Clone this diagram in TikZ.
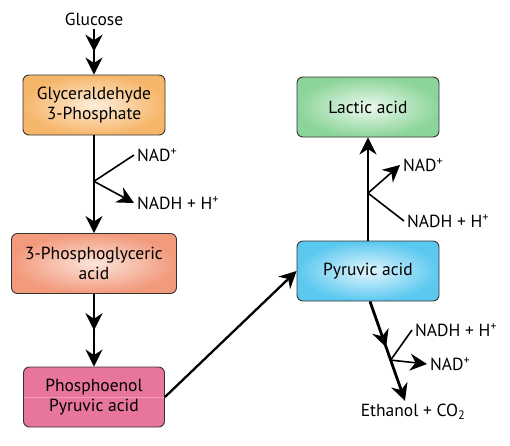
\documentclass[tikz,border=0pt]{standalone}
\usepackage{fontspec}
\setmainfont{PT Sans}
\usetikzlibrary{arrows.meta,calc,decorations.markings}

\definecolor{gapout}{HTML}{F6B66A}
\definecolor{gapin}{HTML}{FDEDD9}
\definecolor{pgaout}{HTML}{F29A7C}
\definecolor{pgain}{HTML}{FCE4DA}
\definecolor{pepfill}{HTML}{E8769C}
\definecolor{pepline}{HTML}{F49AB9}
\definecolor{lacout}{HTML}{8CD59A}
\definecolor{lacin}{HTML}{ECF8EE}
\definecolor{pyrout}{HTML}{5BC8F0}
\definecolor{pyrin}{HTML}{E2F5FC}

\begin{document}
\begin{tikzpicture}[x=1pt,y=-1pt,
		font=\fontsize{17.5}{20}\selectfont,
		box/.style={draw=black!80, line width=0.9pt, rounded corners=6pt, align=center,
			minimum width=142pt, minimum height=60pt, inner sep=0pt},
		flowhead/.style={-{Stealth[length=17pt,width=17pt,inset=5.5pt]}},
		flow/.style={line width=2.8pt, flowhead},
		side/.style={line width=1.6pt},
		midarrow/.style={postaction={decorate}, decoration={markings,
				mark=at position #1 with {\arrow{Stealth[length=17pt,width=17pt,inset=5.5pt]}}}},
		sidetext/.style={anchor=west, inner sep=3pt}
	]
		%%%%% START %%%%%
		
		\useasboundingbox (0,0) rectangle (510,445);
		
		% boxes
		\node[box, shading=radial, inner color=gapin, outer color=gapout] (g3p) at (94,105) {Glyceraldehyde\\3-Phosphate};
		\node[box, minimum width=165pt, shading=radial, inner color=pgain, outer color=pgaout] (pga) at (94,263.5) {3-Phosphoglyceric\\acid};
		\node[box, minimum width=141pt, fill=pepfill] (pep) at (94,397) {Phosphoenol\\Pyruvic acid};
		\draw[pepline, line width=0.6pt] ([xshift=1pt]pep.west) -- ([xshift=-1pt]pep.east);
		\node[box, shading=radial, inner color=lacin, outer color=lacout] (lac) at (368,107) {Lactic acid};
		\node[box, shading=radial, inner color=pyrin, outer color=pyrout] (pyr) at (368,271) {Pyruvic acid};
		
		% texts
		\node (glc) at (94,19) {Glucose};
		\node (eth) at (413,412) {Ethanol + CO\textsubscript{2}};
		\node[sidetext] (nad1) at (134,155) {NAD\textsuperscript{+}};
		\node[sidetext] (nadh1) at (134,203) {NADH + H\textsuperscript{+}};
		\node[sidetext] (nad2) at (400,165) {NAD\textsuperscript{+}};
		\node[sidetext] (nadh2) at (404,221) {NADH + H\textsuperscript{+}};
		\node[sidetext] (nadh3) at (412,330) {NADH + H\textsuperscript{+}};
		\node[sidetext] (nad3) at (427,364) {NAD\textsuperscript{+}};
		
		% glycolysis
		\draw[flow, midarrow=0.5] (glc) -- (g3p);
		\draw[flow] (g3p) -- (pga);
		\coordinate (b1) at ($(g3p.south)!0.47!(pga.north)$);
		\draw[side] (nad1.west) -- (b1);
		\draw[side, flowhead] (b1) -- (nadh1.west);
		\draw[flow, midarrow=0.5] (pga) -- (pep);
		\draw[flow, line width=2.3pt] (pep.east) -- (pyr.west);
		
		% lactic acid
		\draw[flow] (pyr.north) -- (lac.south);
		\coordinate (b3) at ($(pyr.north)!0.46!(lac.south)$);
		\draw[side] (nadh2.west) -- (b3);
		\draw[side, flowhead] (b3) -- (nad2.west);
		
		% ethanol
		\coordinate (etip) at ([xshift=-8pt]eth.north);
		\draw[flow, midarrow=0.46] ([xshift=2pt]pyr.south) -- (etip);
		\coordinate (b4) at ($([xshift=2pt]pyr.south)!0.59!(etip)$);
		\draw[side] (nadh3.west) -- (b4);
		\draw[side, flowhead] (b4) -- (nad3.west);
		
		%%%%% END %%%%%
	\end{tikzpicture}
\end{document}
